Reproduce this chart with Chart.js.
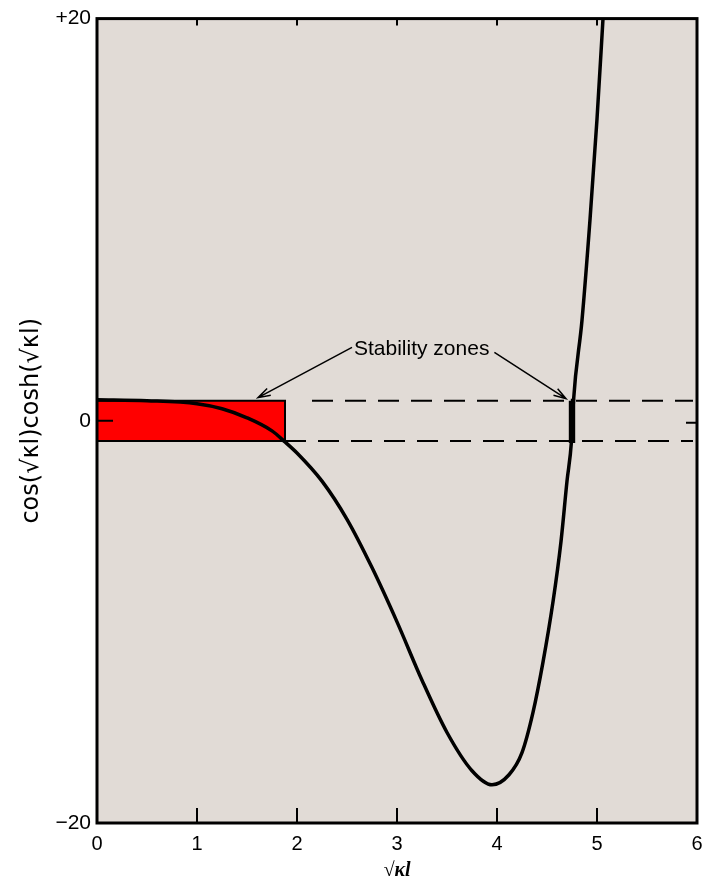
<!DOCTYPE html>
<html>
<head>
<meta charset="utf-8">
<script src="https://cdn.jsdelivr.net/npm/chart.js@4.4.1/dist/chart.umd.min.js"></script>
<style>
  body { margin: 0; background: #ffffff; }
  #wrap { width: 714px; height: 888px; }
</style>
</head>
<body>
<div id="wrap"><canvas id="stabilityChart"></canvas></div>
<script>
// Axis ticks
const xTicks = [0, 1, 2, 3, 4, 5, 6];
const yTicks = [-20, 0, 20];
const yTickLabels = ['\u221220', '0', '+20'];

// cos(sqrt(k)l)cosh(sqrt(k)l)
const curveX = [0, 0.5, 1.0, 1.25, 1.5, 1.75, 1.88, 2.0, 2.25, 2.5, 2.75, 3.0, 3.25, 3.5, 3.75, 3.95,
  4.12, 4.25, 4.36, 4.46, 4.56, 4.64, 4.70, 4.745, 4.765, 4.85, 4.93, 5.0, 5.06];
const curveY = [1.05, 1.0, 0.85, 0.6, 0.15, -0.5, -1.05, -1.6, -3.0, -4.9, -7.3, -10.0, -12.9, -15.5, -17.4, -18.1,
  -17.6, -16.5, -14.5, -12.0, -9.0, -6.0, -3.0, -1.0, 1.0, 5.0, 10.0, 15.0, 20];

// Stability zones: |value| <= 1
const zoneLow = -1;
const zoneHigh = 1;
const zone1 = [0, 1.88];
const zone2 = [4.738, 4.762];
const upperDash = [2.15, 5.96];
const lowerDash = [1.88, 5.96];

const bgColor = '#e1dbd6';
const sansFont = '"Liberation Sans", Arial, sans-serif';

const pts = (xs, ys) => xs.map((x, i) => ({ x: x, y: ys[i] }));

// background, frame, inward ticks and the annotation
const framePlugin = {
  id: 'frame',
  beforeDraw(chart) {
    const { ctx, chartArea: a } = chart;
    ctx.save();
    ctx.fillStyle = bgColor;
    ctx.fillRect(a.left, a.top, a.right - a.left, a.bottom - a.top);
    ctx.restore();
  },
  afterDatasetsDraw(chart) {
    const { ctx, chartArea: a, scales } = chart;
    const sx = scales.x, sy = scales.y;
    ctx.save();
    ctx.strokeStyle = '#000';
    ctx.lineWidth = 3;
    ctx.strokeRect(a.left, a.top, a.right - a.left, a.bottom - a.top);

    ctx.lineWidth = 2;
    ctx.beginPath();
    xTicks.slice(1, -1).forEach((t) => {
      const px = sx.getPixelForValue(t);
      ctx.moveTo(px, a.bottom);
      ctx.lineTo(px, a.bottom - 15);
      ctx.moveTo(px, a.top);
      ctx.lineTo(px, a.top + 7);
    });
    const y0 = sy.getPixelForValue(0);
    ctx.moveTo(a.left, y0);
    ctx.lineTo(a.left + 16, y0);
    ctx.moveTo(a.right, y0 + 2);
    ctx.lineTo(a.right - 11, y0 + 2);
    ctx.stroke();

    // annotation
    const tx = sx.getPixelForValue(2.57);
    const ty = sy.getPixelForValue(3.55);
    ctx.fillStyle = '#000';
    ctx.font = '21px ' + sansFont;
    ctx.textBaseline = 'middle';
    ctx.textAlign = 'left';
    ctx.fillText('Stability zones', tx, ty);
    const tw = ctx.measureText('Stability zones').width;

    const arrow = (x1, y1, x2, y2) => {
      ctx.lineWidth = 1.5;
      ctx.beginPath();
      ctx.moveTo(x1, y1);
      ctx.lineTo(x2, y2);
      const ang = Math.atan2(y2 - y1, x2 - x1);
      const h = 13;
      ctx.moveTo(x2 - h * Math.cos(ang - 0.3), y2 - h * Math.sin(ang - 0.3));
      ctx.lineTo(x2, y2);
      ctx.lineTo(x2 - h * Math.cos(ang + 0.3), y2 - h * Math.sin(ang + 0.3));
      ctx.stroke();
    };
    arrow(tx - 2, ty - 2, sx.getPixelForValue(1.61), sy.getPixelForValue(1.15));
    arrow(tx + tw + 5, ty + 3, sx.getPixelForValue(4.69), sy.getPixelForValue(1.1));
    ctx.restore();
  }
};

new Chart(document.getElementById('stabilityChart'), {
  type: 'scatter',
  data: {
    datasets: [
      {
        label: 'cos cosh',
        data: pts(curveX, curveY),
        showLine: true,
        borderColor: '#000',
        borderWidth: 3.5,
        cubicInterpolationMode: 'monotone',
        pointRadius: 0
      },
      {
        label: 'zone 1 edge',
        data: pts([zone1[0], zone1[1], zone1[1], zone1[0]], [zoneHigh, zoneHigh, zoneLow, zoneLow]),
        showLine: true,
        borderColor: '#000',
        borderWidth: 2,
        pointRadius: 0
      },
      {
        label: 'zone 1',
        data: pts(zone1, [zoneHigh, zoneHigh]),
        showLine: true,
        fill: { value: zoneLow },
        backgroundColor: '#ff0000',
        borderWidth: 0,
        pointRadius: 0
      },
      {
        label: 'zone 2 edge',
        data: pts([zone2[0], zone2[1], zone2[1], zone2[0], zone2[0]], [zoneHigh, zoneHigh, zoneLow, zoneLow, zoneHigh]),
        showLine: true,
        borderColor: '#000',
        borderWidth: 4,
        pointRadius: 0
      },
      {
        label: 'zone 2',
        data: pts(zone2, [zoneHigh, zoneHigh]),
        showLine: true,
        fill: { value: zoneLow },
        backgroundColor: '#6a0000',
        borderWidth: 0,
        pointRadius: 0
      },
      {
        label: 'upper limit',
        data: pts(upperDash, [zoneHigh, zoneHigh]),
        showLine: true,
        borderColor: '#000',
        borderWidth: 2,
        borderDash: [21, 12],
        pointRadius: 0
      },
      {
        label: 'lower limit',
        data: pts(lowerDash, [zoneLow, zoneLow]),
        showLine: true,
        borderColor: '#000',
        borderWidth: 2,
        borderDash: [21, 12],
        pointRadius: 0
      }
    ]
  },
  options: {
    responsive: true,
    maintainAspectRatio: false,
    animation: false,
    layout: { padding: { top: 18, right: 17, left: 0, bottom: 0 } },
    plugins: {
      legend: { display: false },
      tooltip: { enabled: false }
    },
    scales: {
      x: {
        type: 'linear',
        min: 0,
        max: 6,
        afterBuildTicks: (axis) => { axis.ticks = xTicks.map((v) => ({ value: v })); },
        afterFit: (axis) => { axis.height = 65; },
        grid: { display: false, drawTicks: false },
        border: { display: false },
        ticks: {
          color: '#000',
          padding: 9,
          font: { family: sansFont, size: 20 }
        },
        title: {
          display: true,
          text: '\u221A\u03BAl',
          color: '#000',
          padding: { top: 0, bottom: 5 },
          font: { family: '"Liberation Serif", serif', size: 20, style: 'italic', weight: 'bold' }
        }
      },
      y: {
        type: 'linear',
        min: -20,
        max: 20,
        afterBuildTicks: (axis) => { axis.ticks = yTicks.map((v) => ({ value: v })); },
        afterFit: (axis) => { axis.width = 97; },
        grid: { display: false, drawTicks: false },
        border: { display: false },
        ticks: {
          color: '#000',
          padding: 6,
          font: { family: sansFont, size: 21 },
          callback: (v) => yTickLabels[yTicks.indexOf(v)]
        },
        title: {
          display: true,
          text: 'cos(\u221A\u03BAl)cosh(\u221A\u03BAl)',
          color: '#000',
          padding: { top: 17, bottom: 0 },
          font: { family: '"DejaVu Sans", sans-serif', size: 24 }
        }
      }
    }
  },
  plugins: [framePlugin]
});
</script>
</body>
</html>
